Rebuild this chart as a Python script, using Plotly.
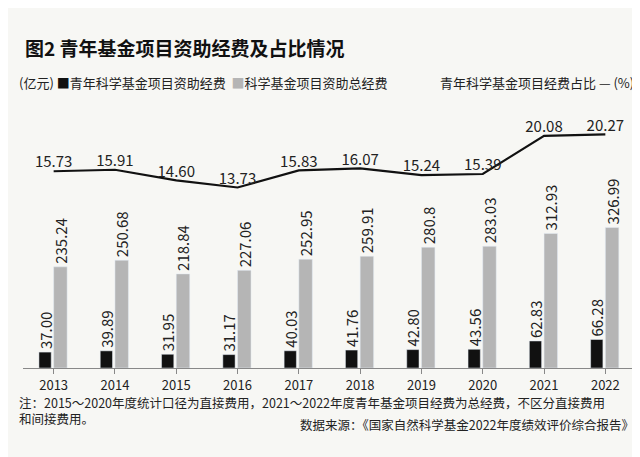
import plotly.graph_objects as go

years = ["2013","2014","2015","2016","2017","2018","2019","2020","2021","2022"]
youth = [37.00,39.89,31.95,31.17,40.03,41.76,42.80,43.56,62.83,66.28]
total = [235.24,250.68,218.84,227.06,252.95,259.91,280.8,283.03,312.93,326.99]
ratio = [15.73,15.91,14.60,13.73,15.83,16.07,15.24,15.39,20.08,20.27]

F = "Noto Sans CJK SC"
fig = go.Figure()
fig.add_trace(go.Bar(x=years, y=youth, marker_color="#111111", width=0.2, offset=-0.24,
                     text=[f"{v:.2f}" for v in youth], textposition="outside", textangle=-90,
                     textfont=dict(size=15, color="#222", family=F), cliponaxis=False))
fig.add_trace(go.Bar(x=years, y=total, marker_color="#b5b5b5", width=0.22, offset=0.0,
                     text=[f"{v:.2f}" if v != 280.8 else "280.8" for v in total], textposition="outside", textangle=-90,
                     textfont=dict(size=15, color="#222", family=F), cliponaxis=False))
fig.add_trace(go.Scatter(x=years, y=ratio, yaxis="y2", mode="lines+text",
                         line=dict(color="#111", width=2.2),
                         text=[f"{v:.2f}" for v in ratio], textposition="top center",
                         textfont=dict(size=15, color="#222", family=F), cliponaxis=False))
fig.update_layout(
    width=640, height=457, margin=dict(l=15, r=12, t=105, b=97),
    paper_bgcolor="#f7f7f4", plot_bgcolor="#f7f7f4", showlegend=False,
    barmode="overlay", font=dict(family=F),
    uniformtext=dict(minsize=14, mode="show"),
    xaxis=dict(showline=True, linecolor="#888", ticks="outside", tickcolor="#888",
               tickfont=dict(size=13, color="#222")),
    yaxis=dict(range=[0, 593], visible=False, showgrid=False),
    yaxis2=dict(range=[-8.5, 22.9], overlaying="y", visible=False, showgrid=False),
    annotations=[
        dict(x=0.0, y=1.255, xref="paper", yref="paper", xanchor="left", yanchor="middle", showarrow=False,
             text="<b>图2 青年基金项目资助经费及占比情况</b>", font=dict(size=19, color="#111")),
        dict(x=-0.01, y=1.12, xref="paper", yref="paper", xanchor="left", yanchor="middle", showarrow=False,
             text="(亿元) <span style='color:#111'>■</span>青年科学基金项目资助经费  <span style='color:#b5b5b5'>■</span>科学基金项目资助总经费",
             font=dict(size=13, color="#222")),
        dict(x=1.0, y=1.12, xref="paper", yref="paper", xanchor="right", yanchor="middle", showarrow=False,
             text="青年科学基金项目经费占比 — (%)", font=dict(size=13, color="#222")),
        dict(x=-0.01, y=-0.09, xref="paper", yref="paper", xanchor="left", yanchor="top", showarrow=False, align="left",
             text="注：2015～2020年度统计口径为直接费用，2021～2022年度青年基金项目经费为总经费，不区分直接费用<br>和间接费用。",
             font=dict(size=12.5, color="#222")),
        dict(x=1.0, y=-0.175, xref="paper", yref="paper", xanchor="right", yanchor="top", showarrow=False,
             text="数据来源：《国家自然科学基金2022年度绩效评价综合报告》", font=dict(size=12.5, color="#222")),
    ],
)
fig.write_html("out.html")
